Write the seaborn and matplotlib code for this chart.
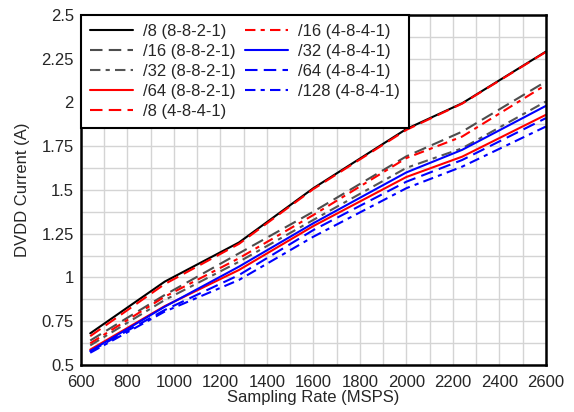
import matplotlib
matplotlib.use("Agg")
import matplotlib.pyplot as plt
import numpy as np
import pandas as pd
import seaborn as sns
from matplotlib.ticker import MultipleLocator, FuncFormatter

# sampling rates (MSPS) where the curves bend
rate = [640, 960, 1280, 1600, 2000, 2240, 2600]

dec8_8821 = [0.681, 0.976, 1.200, 1.510, 1.848, 1.995, 2.290]
dec16_8821 = [0.640, 0.900, 1.138, 1.376, 1.692, 1.833, 2.119]
dec32_8821 = [0.612, 0.871, 1.090, 1.329, 1.626, 1.738, 2.005]
dec64_8821 = [0.588, 0.836, 1.043, 1.294, 1.574, 1.690, 1.929]
dec8_4841 = [0.665, 0.962, 1.192, 1.505, 1.843, 1.993, 2.288]
dec16_4841 = [0.624, 0.890, 1.110, 1.357, 1.682, 1.805, 2.100]
dec32_4841 = [0.580, 0.833, 1.062, 1.310, 1.600, 1.729, 1.980]
dec64_4841 = [0.578, 0.814, 1.014, 1.271, 1.547, 1.671, 1.910]
dec128_4841 = [0.570, 0.805, 0.986, 1.233, 1.510, 1.633, 1.862]

labels = [
    "/8 (8-8-2-1)", "/16 (8-8-2-1)", "/32 (8-8-2-1)", "/64 (8-8-2-1)",
    "/8 (4-8-4-1)", "/16 (4-8-4-1)", "/32 (4-8-4-1)", "/64 (4-8-4-1)",
    "/128 (4-8-4-1)",
]
values = [
    dec8_8821, dec16_8821, dec32_8821, dec64_8821,
    dec8_4841, dec16_4841, dec32_4841, dec64_4841, dec128_4841,
]

df = pd.concat(
    [pd.DataFrame({"rate": rate, "current": v, "mode": lab}) for lab, v in zip(labels, values)],
    ignore_index=True,
)

palette = {
    labels[0]: "black", labels[1]: "#4d4d4d", labels[2]: "#555555",
    labels[3]: "#ff0000", labels[4]: "#ff0000", labels[5]: "#ff0000",
    labels[6]: "#0000ff", labels[7]: "#0000ff", labels[8]: "#0000ff",
}
dashes = {
    labels[0]: "", labels[1]: (6, 3), labels[2]: (5, 2.5, 2, 2.5),
    labels[3]: "", labels[4]: (6, 3), labels[5]: (5, 2.5, 2, 2.5),
    labels[6]: "", labels[7]: (6, 3), labels[8]: (5, 2.5, 2, 2.5),
}

sns.set_style("white")
plt.rcParams["font.family"] = ["Liberation Sans", "DejaVu Sans"]

fig = plt.figure(figsize=(5.74, 4.12), dpi=100)
ax = fig.add_axes([0.141, 0.114, 0.810, 0.850])

sns.lineplot(
    data=df, x="rate", y="current", hue="mode", style="mode",
    palette=palette, dashes=dashes, linewidth=1.5, ax=ax,
    hue_order=labels, style_order=labels,
)

ax.set_xlim(600, 2600)
ax.set_ylim(0.5, 2.5)
ax.xaxis.set_major_locator(MultipleLocator(200))
ax.xaxis.set_minor_locator(MultipleLocator(100))
ax.yaxis.set_major_locator(MultipleLocator(0.25))
ax.yaxis.set_minor_locator(MultipleLocator(0.125))
ax.yaxis.set_major_formatter(FuncFormatter(lambda v, p: f"{v:g}"))
ax.grid(True, which="both", color="#d4d4d4", linewidth=1.0)
ax.set_axisbelow(True)
ax.tick_params(which="both", length=0, labelsize=12)
ax.tick_params(axis="x", pad=7)
ax.tick_params(axis="y", pad=5)

for s in ax.spines.values():
    s.set_color("black")
    s.set_linewidth(1.8)

ax.set_xlabel("Sampling Rate (MSPS)", fontsize=12, labelpad=0)
ax.set_ylabel("DVDD Current (A)", fontsize=12, labelpad=8)

leg = ax.legend(
    loc="upper left", ncol=2, fontsize=12, frameon=True, fancybox=False,
    borderaxespad=0, handlelength=2.6, handletextpad=0.6, columnspacing=0.5,
    labelspacing=0.3, borderpad=0.55,
)
leg.get_frame().set_edgecolor("black")
leg.get_frame().set_linewidth(1.5)
leg.get_frame().set_alpha(1)

fig.savefig("out.png", dpi=100)
